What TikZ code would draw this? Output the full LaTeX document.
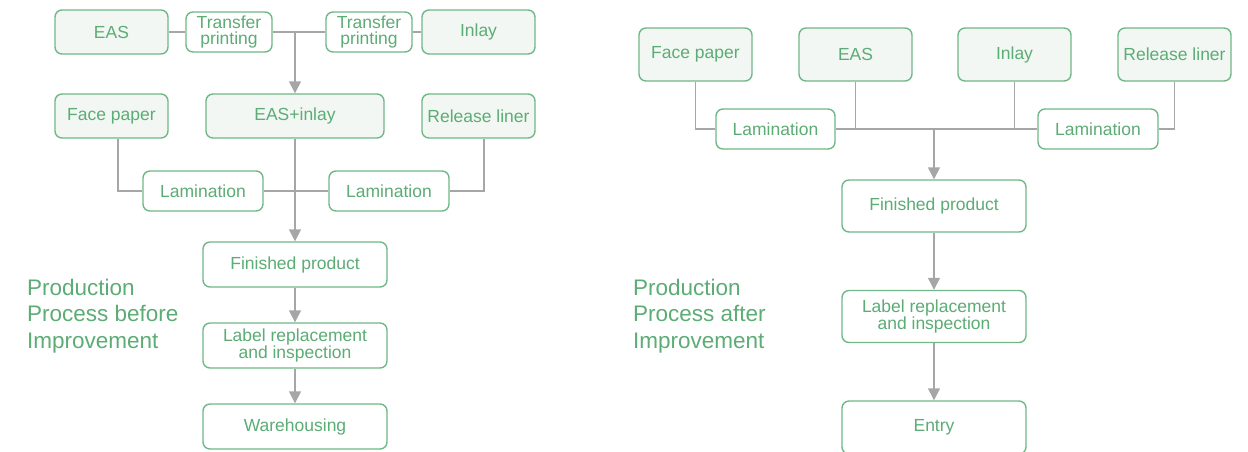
\documentclass[tikz,border=0pt]{standalone}
\usepackage{fontspec}
\setmainfont{Liberation Sans}
\usetikzlibrary{arrows.meta}

\definecolor{boxgreen}{RGB}{112,184,136}
\definecolor{txtgreen}{RGB}{92,172,117}
\definecolor{boxfill}{RGB}{242,247,243}
\definecolor{linegray}{RGB}{166,166,166}

\tikzset{
  stepbox/.style={draw=boxgreen, line width=1.4pt, rounded corners=7pt, fill=white,
    text=txtgreen, inner sep=0pt, align=center,
    font=\fontsize{17.5}{16}\selectfont},
  inbox/.style={stepbox, fill=boxfill},
  wire/.style={draw=linegray, line width=1.4pt},
  arr/.style={wire, -{Triangle[width=12pt,length=12pt]}},
  title/.style={text=txtgreen, align=left, inner sep=0pt, anchor=west,
    font=\fontsize{22.5}{26.5}\selectfont},
}

\begin{document}
\begin{tikzpicture}[x=1pt,y=-1pt]
\useasboundingbox (0,0) rectangle (1248,451);

% ---------- process before improvement ----------
\node[inbox, minimum width=113pt, minimum height=44pt] (easL) at (111.5,32) {EAS};
\node[stepbox, minimum width=86pt, minimum height=40pt] (tpA) at (229,32) {Transfer\\printing};
\node[stepbox, minimum width=86pt, minimum height=40pt] (tpB) at (369,32) {Transfer\\printing};
\node[inbox, minimum width=113pt, minimum height=44pt] (inlayL) at (478.5,32) {Inlay};

\node[inbox, minimum width=113pt, minimum height=44pt] (faceL) at (111.5,116) {Face paper};
\node[inbox, minimum width=178pt, minimum height=44pt] (easinlay) at (295,116) {EAS+inlay};
\node[inbox, minimum width=113pt, minimum height=44pt] (relL) at (478.5,116) {Release liner};

\node[stepbox, minimum width=120pt, minimum height=40pt] (lamLA) at (203,191) {Lamination};
\node[stepbox, minimum width=120pt, minimum height=40pt] (lamLB) at (389,191) {Lamination};

\node[stepbox, minimum width=184pt, minimum height=45pt] (finL) at (295,264.5) {Finished product};
\node[stepbox, minimum width=184pt, minimum height=45pt] (labL) at (295,345.5) {Label replacement\\and inspection};
\node[stepbox, minimum width=184pt, minimum height=45pt] (wareL) at (295,426.5) {Warehousing};

\node[title] (titleL) at (27,315.7) {Production\\Process before\\Improvement};

\draw[wire] (easL.east) -- (tpA.west);
\draw[wire] (tpA.east) -- (tpB.west);
\draw[wire] (tpB.east) -- (inlayL.west);
\draw[arr] (easinlay.north |- tpA.east) -- (easinlay.north);

\draw[wire] ([xshift=6.5pt]faceL.south) |- (lamLA.west);
\draw[wire] ([xshift=5.5pt]relL.south) |- (lamLB.east);
\draw[wire] (lamLA.east) -- (lamLB.west);
\draw[arr] (easinlay.south) -- (finL.north);
\draw[arr] (finL.south) -- (labL.north);
\draw[arr] (labL.south) -- (wareL.north);

% ---------- process after improvement ----------
\node[inbox, minimum width=113pt, minimum height=53pt] (faceR) at (695.5,54.5) {Face paper};
\node[inbox, minimum width=113pt, minimum height=53pt] (easR) at (855.5,54.5) {EAS};
\node[inbox, minimum width=113pt, minimum height=53pt] (inlayR) at (1014.5,54.5) {Inlay};
\node[inbox, minimum width=113pt, minimum height=53pt] (relR) at (1174.5,54.5) {Release liner};

\node[stepbox, minimum width=119pt, minimum height=40pt] (lamRA) at (775.5,129) {Lamination};
\node[stepbox, minimum width=120pt, minimum height=40pt] (lamRB) at (1098,129) {Lamination};

\node[stepbox, minimum width=184pt, minimum height=52pt] (finR) at (934,206) {Finished product};
\node[stepbox, minimum width=184pt, minimum height=52pt] (labR) at (934,316.5) {Label replacement\\and inspection};
% the last box runs a little past the lower edge of the page
\node[stepbox, minimum width=184pt, minimum height=53pt] (entry) at (934,427.5) {Entry};

\node[title] (titleR) at (633,315.7) {Production\\Process after\\Improvement};

\draw[wire] (faceR.south) |- (lamRA.west);
\draw[wire] (relR.south) |- (lamRB.east);
\draw[wire] (lamRA.east) -- (lamRB.west);
\draw[wire] (easR.south) -- (easR.south |- lamRA.east);
\draw[wire] (inlayR.south) -- (inlayR.south |- lamRB.west);
\draw[arr] (finR.north |- lamRA.east) -- (finR.north);
\draw[arr] (finR.south) -- (labR.north);
\draw[arr] (labR.south) -- (entry.north);
\end{tikzpicture}
\end{document}
